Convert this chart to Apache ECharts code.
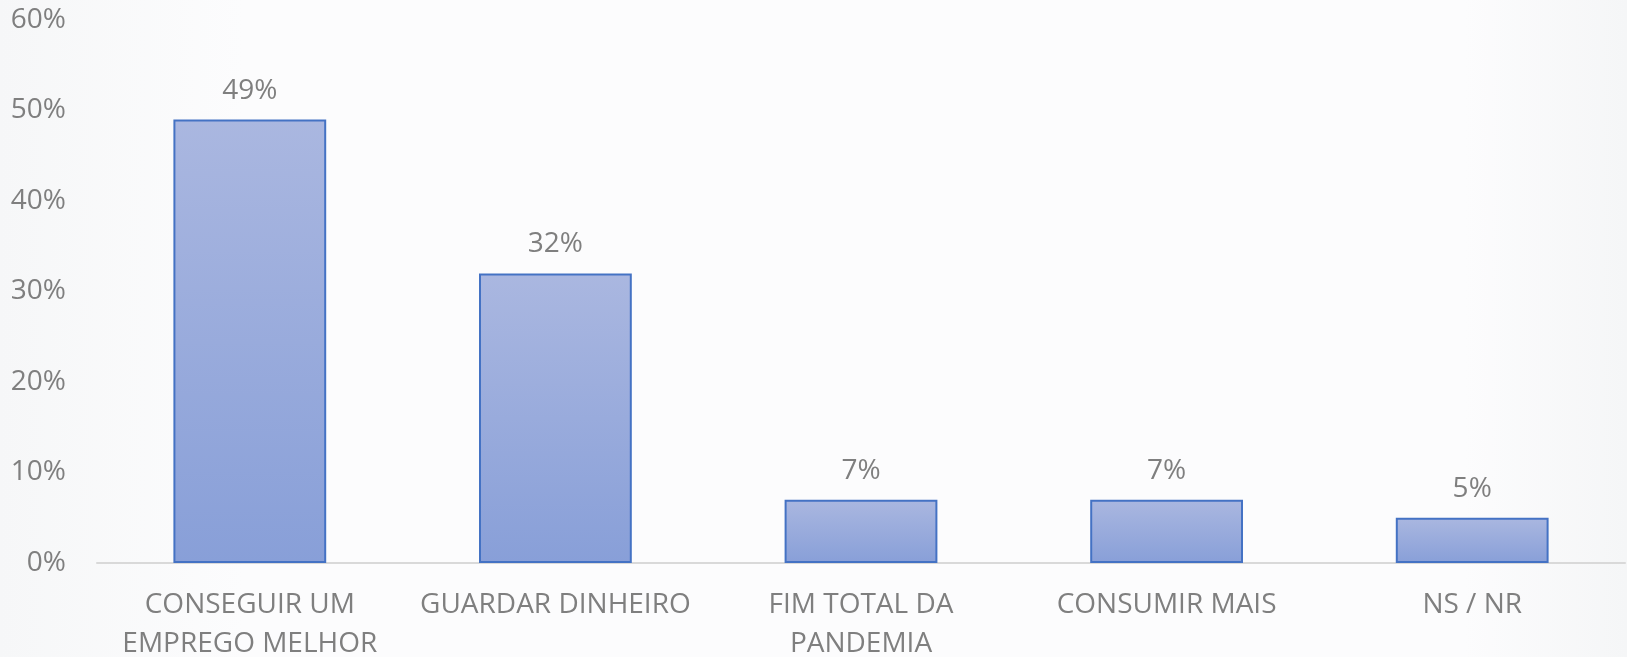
<!DOCTYPE html>
<html><head><meta charset="utf-8">
<script src="https://cdn.jsdelivr.net/npm/echarts@6/dist/echarts.min.js"></script>
<style>html,body{margin:0;padding:0;background:#fbfbfc;overflow:hidden;}#c{width:1627px;height:657px;}</style>
</head><body><div id="c"></div>
<script>
const categories = ['CONSEGUIR UM\nEMPREGO MELHOR', 'GUARDAR DINHEIRO', 'FIM TOTAL DA\nPANDEMIA', 'CONSUMIR MAIS', 'NS / NR'];
const values = [49, 32, 7, 7, 5];
const yTicks = {min: 0, max: 60, interval: 10};

const chart = echarts.init(document.getElementById('c'), null, {renderer: 'canvas'});
const font = '"Open Sans", "Noto Sans", sans-serif';
chart.setOption({
  backgroundColor: {
    type: 'linear', x: 0, y: 0, x2: 1, y2: 0,
    colorStops: [{offset: 0, color: '#f6f7f8'}, {offset: 0.15, color: '#fcfcfd'}, {offset: 0.9, color: '#fcfcfd'}, {offset: 1, color: '#f5f6f7'}]
  },
  animation: false,
  grid: {left: 97, right: 2, top: 20, bottom: 94, containLabel: false, outerBoundsMode: 'none'},
  xAxis: {
    type: 'category', data: categories,
    axisLine: {lineStyle: {color: '#d9d9d9', width: 2}},
    axisTick: {show: false},
    axisLabel: {color: '#7f7f7f', fontSize: 28, fontFamily: font, margin: 23, lineHeight: 39, interval: 0}
  },
  yAxis: {
    type: 'value', min: yTicks.min, max: yTicks.max, interval: yTicks.interval,
    splitLine: {show: false},
    axisLine: {show: false}, axisTick: {show: false},
    axisLabel: {color: '#7f7f7f', fontSize: 28, fontFamily: font, margin: 31, formatter: '{value}%'}
  },
  series: [{
    type: 'bar', data: values, barWidth: '50%',
    itemStyle: {
      color: {type: 'linear', x: 0, y: 0, x2: 0, y2: 1, global: false,
        colorStops: [{offset: 0, color: '#aab7e0'}, {offset: 1, color: '#889fd8'}]},
      borderColor: '#4472c4', borderWidth: 2
    },
    label: {show: true, position: 'top', distance: 15, color: '#7f7f7f', fontSize: 28, fontFamily: font, formatter: '{c}%'}
  }]
});
</script></body></html>
